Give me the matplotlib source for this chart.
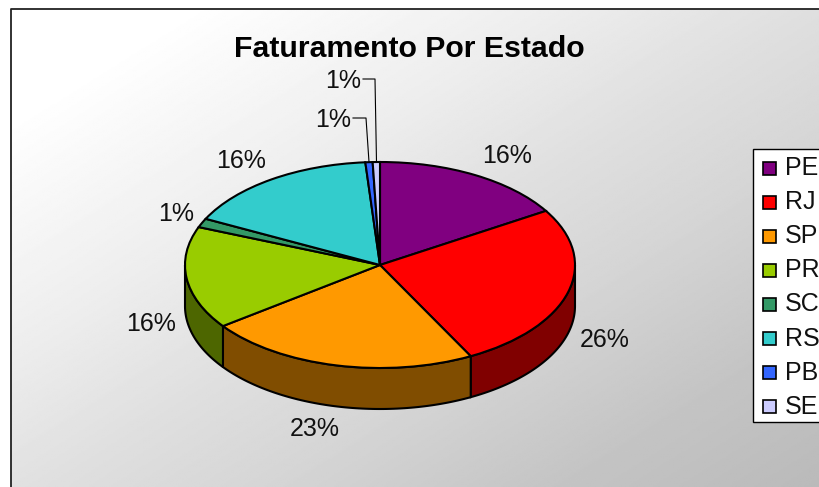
import numpy as np
import matplotlib
matplotlib.use("Agg")
import matplotlib.pyplot as plt
from matplotlib.patches import Wedge, Polygon, Rectangle
from matplotlib.transforms import Affine2D

plt.rcParams['font.family'] = ['Liberation Sans', 'DejaVu Sans']

# Dados do grafico
estados = ['PE', 'RJ', 'SP', 'PR', 'SC', 'RS', 'PB', 'SE']
valores = [16.2, 26.1, 22.6, 16.1, 1.4, 16.4, 0.6, 0.6]
cores = ['#800080', '#ff0000', '#ff9900', '#99cc00', '#339966', '#33cccc', '#3366ff', '#ccccff']
cores_lado = ['#400040', '#800000', '#804d00', '#4d6600', '#1a4d33', '#1a6666', '#1a3380', '#666680']
titulo = 'Faturamento Por Estado'

# Geometria em pixels
cx, cy, rx, ry, prof = 380, 265, 195, 103, 41
pos_rotulos = [(507, 156), (605, 340), (315, 429), (151, 324),
               (176, 214), (241, 161), (333, 120), (343, 81)]

fig = plt.figure(figsize=(8.2, 4.87), dpi=100)
ax = fig.add_axes([0, 0, 1, 1])

# Fundo com gradiente diagonal
gx, gy = np.meshgrid(np.linspace(11, 820, 400), np.linspace(9, 487, 300))
grad = np.interp(gx * 0.2 + gy * 0.32, [40, 115, 165, 210, 266, 318], [1.0, 0.93, 0.875, 0.835, 0.77, 0.73])
ax.imshow(grad, cmap='gray', vmin=0, vmax=1, extent=(11, 820, 487, 9), aspect='auto', zorder=0)
ax.set_xlim(0, 820)
ax.set_ylim(487, 0)
ax.axis('off')
ax.plot([11, 11, 820], [487, 9, 9], color='#222222', lw=1.3, zorder=1)

limites = np.concatenate([[0], np.cumsum(valores)]) / sum(valores) * 360


def arco(t1, t2, dy=0):
    t = np.radians(np.linspace(t1, t2, 80))
    return np.column_stack([cx + rx * np.sin(t), cy - ry * np.cos(t) + dy])


# Lateral (so a metade da frente aparece)
for i in range(len(valores)):
    a, b = max(limites[i], 90), min(limites[i + 1], 270)
    if b > a:
        pts = np.vstack([arco(a, b), arco(a, b, prof)[::-1]])
        ax.add_patch(Polygon(pts, closed=True, fc=cores_lado[i], ec='black', lw=1.5, zorder=2))

# Topo
trans = Affine2D().scale(rx, -ry).translate(cx, cy) + ax.transData
for i in range(len(valores)):
    ax.add_patch(Wedge((0, 0), 1, 90 - limites[i + 1], 90 - limites[i], fc=cores[i],
                       ec='black', lw=1.5, transform=trans, zorder=3))

# Rotulos
for v, (x, y) in zip(valores, pos_rotulos):
    ax.text(x, y, '%d%%' % round(v), fontsize=18, ha='center', va='center', color='#111111', zorder=5)

# Linhas de chamada
ax.plot([353, 366, 369], [118, 118, 162], color='black', lw=0.8, zorder=4)
ax.plot([363, 375, 376.5], [79, 79, 162], color='black', lw=0.8, zorder=4)

ax.text(409, 49, titulo, fontsize=21.8, fontweight='bold', ha='center', va='center', zorder=5)

# Legenda
ax.add_patch(Rectangle((753, 149), 80, 273, fc='white', ec='black', lw=1, zorder=4))
for i, e in enumerate(estados):
    y = 168 + i * 34.1
    ax.add_patch(Rectangle((763, y - 6.5), 13, 13, fc=cores[i], ec='black', lw=1.2, zorder=5))
    ax.text(785, y, e, fontsize=18, ha='left', va='center', color='#111111', zorder=5)

fig.savefig('out.png', dpi=100)
